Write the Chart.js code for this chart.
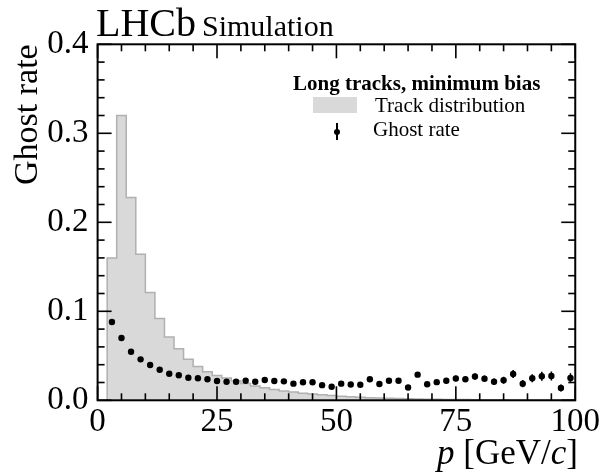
<!DOCTYPE html>
<html>
<head>
<meta charset="utf-8">
<script src="https://cdn.jsdelivr.net/npm/chart.js@4/dist/chart.umd.min.js"></script>
<style>
  html, body { margin: 0; padding: 0; background: #fff; }
  #wrap { position: relative; width: 602px; height: 474px; font-family: 'Liberation Serif', 'DejaVu Serif', serif; color: #000; }
  canvas { position: absolute; left: 0; top: 0; }
  .t { position: absolute; line-height: 1; white-space: nowrap; }
</style>
</head>
<body>
<div id="wrap">
  <canvas id="c" width="602" height="474"></canvas>
  <div class="t" style="left:96px; top:3px; font-size:40px;">LHCb</div>
  <div class="t" style="left:202px; top:11px; font-size:30px;">Simulation</div>
  <div class="t" style="left:293px; top:73px; font-size:21px; font-weight:bold;">Long tracks, minimum bias</div>
  <div style="position:absolute; left:313px; top:97px; width:44px; height:16px; background:#d9d9d9;"></div>
  <div class="t" style="left:375px; top:95px; font-size:21px;">Track distribution</div>
  <div style="position:absolute; left:336px; top:123px; width:1.6px; height:17px; background:#000;"></div>
  <div style="position:absolute; left:333.8px; top:128.7px; width:6px; height:6px; border-radius:50%; background:#000;"></div>
  <div class="t" style="left:373px; top:119px; font-size:21px;">Ghost rate</div>
  <div class="t" style="right:24px; top:435px; font-size:35px;"><i>p</i> [GeV/<i>c</i>]</div>
</div>
<script>
// ---- data ----
const momentum = [3,5,7,9,11,13,15,17,19,21,23,25,27,29,31,33,35,37,39,41,43,45,47,49,51,53,55,57,59,61,63,65,67,69,71,73,75,77,79,81,83,85,87,89,91,93,95,97,99];
const ghostRate = [0.088,0.070,0.0546,0.046,0.0397,0.0344,0.0299,0.0281,0.0254,0.0247,0.0237,0.0217,0.0209,0.0209,0.022,0.0209,0.0228,0.0217,0.0213,0.0187,0.0202,0.0202,0.017,0.0152,0.0187,0.0178,0.0175,0.0236,0.0183,0.022,0.022,0.0144,0.0288,0.018,0.0204,0.022,0.0245,0.0236,0.0267,0.0243,0.0209,0.0225,0.0296,0.0187,0.0247,0.027,0.0273,0.0138,0.025];
const ghostErr = [0.001,0.001,0.001,0.001,0.001,0.001,0.001,0.001,0.001,0.001,0.0012,0.0012,0.0012,0.0012,0.0012,0.0013,0.0013,0.0013,0.0014,0.0014,0.0015,0.0015,0.0016,0.0016,0.0017,0.0017,0.0018,0.0018,0.0019,0.002,0.002,0.002,0.0025,0.0025,0.0025,0.003,0.003,0.003,0.0035,0.0035,0.0035,0.004,0.0045,0.004,0.0045,0.005,0.005,0.004,0.0055];
const binEdges = [2,4,6,8,10,12,14,16,18,20,22,24,26,28,30,32,34,36,38,40,42,44,46,48,50,52,54,56,58,60,62,64,66,68,70,72,74,76,78,80,82,84,86,88,90,92,94,96,98,100];
const trackDist = [0.160,0.320,0.228,0.164,0.121,0.092,0.071,0.058,0.046,0.038,0.032,0.028,0.025,0.022,0.019,0.016,0.014,0.012,0.0105,0.0092,0.008,0.007,0.0061,0.0053,0.0046,0.004,0.0035,0.003,0.0026,0.0023,0.002,0.0017,0.0015,0.0013,0.0011,0.001,0.0009,0.0008,0.0007,0.0006,0.0005,0.0005,0.0004,0.0004,0.0003,0.0003,0.0003,0.0002,0.0002];
const xTickValues = [0,25,50,75,100];
const xTickLabels = ['0','25','50','75','100'];
const yTickValues = [0.0,0.1,0.2,0.3,0.4];
const yTickLabels = ['0.0','0.1','0.2','0.3','0.4'];
const xMinorStep = 5;
const yMinorStep = 0.02;

// ---- build datasets ----
const histData = [{x: binEdges[0], y: 0}];
for (let i = 0; i < trackDist.length; i++) histData.push({x: binEdges[i], y: trackDist[i]});
histData.push({x: binEdges[binEdges.length-1], y: trackDist[trackDist.length-1]});
histData.push({x: binEdges[binEdges.length-1], y: 0});
const rateData = momentum.map((m, i) => ({x: m, y: ghostRate[i]}));

Chart.defaults.font.family = "'Liberation Serif', 'DejaVu Serif', serif";
Chart.defaults.color = '#000';

const frameTicks = {
  id: 'frameTicks',
  afterDraw(chart) {
    const ctx = chart.ctx;
    const a = chart.chartArea;
    const x = chart.scales.x, y = chart.scales.y;
    const major = 14, minor = 7, w = 1.6;
    ctx.save();
    ctx.fillStyle = '#000';
    const nx = Math.round((x.max - x.min) / xMinorStep);
    for (let k = 0; k <= nx; k++) {
      const v = x.min + k * xMinorStep;
      const isMaj = xTickValues.some(t => Math.abs(t - v) < 1e-9);
      const L = isMaj ? major : minor;
      const px = x.getPixelForValue(v);
      ctx.fillRect(px - w / 2, a.bottom - L, w, L);
      ctx.fillRect(px - w / 2, a.top, w, L);
    }
    const ny = Math.round((y.max - y.min) / yMinorStep);
    for (let k = 0; k <= ny; k++) {
      const v = y.min + k * yMinorStep;
      const isMaj = yTickValues.some(t => Math.abs(t - v) < 1e-9);
      const L = isMaj ? major : minor;
      const py = y.getPixelForValue(v);
      ctx.fillRect(a.left, py - w / 2, L, w);
      ctx.fillRect(a.right - L, py - w / 2, L, w);
    }
    ctx.strokeStyle = '#000';
    ctx.lineWidth = 2;
    ctx.strokeRect(a.left, a.top, a.right - a.left, a.bottom - a.top);
    ctx.restore();
  }
};

const errorBars = {
  id: 'errorBars',
  afterDatasetsDraw(chart) {
    const ctx = chart.ctx;
    const x = chart.scales.x, y = chart.scales.y;
    ctx.save();
    ctx.strokeStyle = '#000';
    ctx.lineWidth = 1.6;
    ctx.beginPath();
    momentum.forEach((m, i) => {
      const px = x.getPixelForValue(m);
      ctx.moveTo(px, y.getPixelForValue(ghostRate[i] - ghostErr[i]));
      ctx.lineTo(px, y.getPixelForValue(ghostRate[i] + ghostErr[i]));
    });
    ctx.stroke();
    ctx.restore();
  }
};

new Chart(document.getElementById('c'), {
  type: 'line',
  data: {
    datasets: [
      {
        label: 'Track distribution',
        data: histData,
        stepped: 'before',
        fill: 'origin',
        backgroundColor: '#d9d9d9',
        borderColor: '#b0b0b0',
        borderWidth: 1.5,
        pointRadius: 0,
        order: 2
      },
      {
        label: 'Ghost rate',
        data: rateData,
        showLine: false,
        pointRadius: 3.2,
        pointBackgroundColor: '#000',
        pointBorderWidth: 0,
        borderColor: '#000',
        order: 1
      }
    ]
  },
  options: {
    responsive: false,
    animation: false,
    layout: { padding: { top: 44.3, right: 25.4, left: 0, bottom: 0 } },
    plugins: { legend: { display: false }, tooltip: { enabled: false } },
    scales: {
      x: {
        type: 'linear', min: 0, max: 100,
        grid: { display: false, drawTicks: false },
        border: { display: false },
        afterBuildTicks: s => { s.ticks = xTickValues.map(v => ({value: v})); },
        afterFit: s => { s.height = 73.7; },
        ticks: {
          font: { size: 33 }, padding: 2, maxRotation: 0, autoSkip: false,
          callback: (v) => xTickLabels[xTickValues.indexOf(v)]
        }
      },
      y: {
        type: 'linear', min: 0, max: 0.4,
        grid: { display: false, drawTicks: false },
        border: { display: false },
        afterBuildTicks: s => { s.ticks = yTickValues.map(v => ({value: v})); },
        afterFit: s => { s.width = 97.6; },
        ticks: {
          font: { size: 33 }, padding: 9, autoSkip: false,
          callback: (v) => { const i = yTickValues.findIndex(t => Math.abs(t - v) < 1e-9); return i >= 0 ? yTickLabels[i] : ''; }
        },
        title: { display: true, text: 'Ghost rate', align: 'end', font: { size: 34 }, padding: { top: 8, bottom: 0 } }
      }
    }
  },
  plugins: [frameTicks, errorBars]
});
</script>
</body>
</html>
